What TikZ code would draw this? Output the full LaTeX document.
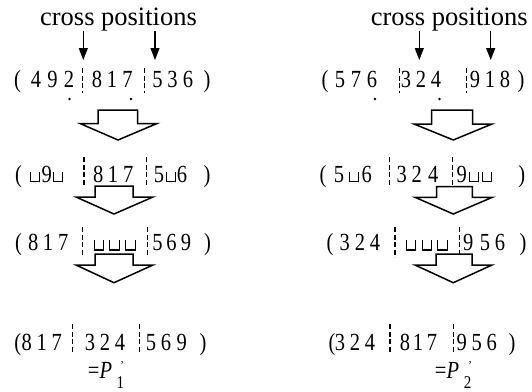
\documentclass[tikz,border=0pt]{standalone}
\usepackage{graphicx}
\usepackage{fontspec}
\setmainfont{Liberation Serif}
\usetikzlibrary{arrows.meta}
\newcommand\sqc{\hbox{\vrule width 0.9pt height 8.5pt\vbox{\hrule width 8.4pt height 0.9pt}\vrule width 0.9pt height 8.5pt}}
\newcommand\tallchar[1]{\scalebox{1}[1.2]{#1}}
\tikzset{
  dig/.style={anchor=base,inner sep=0pt,font=\fontsize{20.5}{20.5}\selectfont},
  lab/.style={anchor=base,inner sep=0pt,font=\fontsize{26.5}{26.5}\selectfont},
  cutline/.style={line width=1.5pt,dash pattern=on 5pt off 2.5pt},
  downarrow/.style={line width=1.3pt,-{Triangle[length=12pt,width=9pt]}},
  blockarrow/.style={line width=1.5pt,fill=white,line join=miter},
  pt/.style={circle,fill,inner sep=0pt,minimum size=2.8pt}
}
\begin{document}
\begin{tikzpicture}[x=1pt,y=-1pt]
\path[use as bounding box] (0,0) rectangle (532,391);
% labels
\node[lab] (cpL) at (118.5,25) {cross positions};
\node[lab] (cpR) at (449.2,25) {cross positions};
\coordinate (aL1s) at (83.3,31); \coordinate (aL1e) at (83.3,60);
\coordinate (aL2s) at (155,31);  \coordinate (aL2e) at (155,60);
\coordinate (aR1s) at (419.3,31); \coordinate (aR1e) at (419.3,60);
\coordinate (aR2s) at (490.7,31); \coordinate (aR2e) at (490.7,60);
\foreach \a in {aL1,aL2,aR1,aR2} \draw[downarrow] (\a s) -- (\a e);
% ---------- left column ----------
\foreach \x/\c [count=\i] in {17.5/{(},36/4,52.5/9,69/2,97/8,112/1,127.5/7,157.5/5,172.5/3,188/6,207/{)}}
  \node[dig] (La\i) at (\x,87.5) {\tallchar{\c}};
\node[pt] (LdotA) at (69.5,99) {};
\node[pt] (LdotB) at (131,99) {};
\foreach \x/\c [count=\i] in {18.5/{(},35/\sqc,46.7/9,57.7/\sqc,98.3/8,113/1,128.3/7,159/5,170.7/\sqc,182/6,207/{)}}
  \node[dig] (Lb\i) at (\x,182) {\tallchar{\c}};
\foreach \x/\c [count=\i] in {18.5/{(},33.3/8,48/1,63.3/7,98.6/\sqc,114.5/\sqc,130.4/\sqc,157.5/5,171.5/6,186/9,207.5/{)}}
  \node[dig] (Lc\i) at (\x,250.5) {\tallchar{\c}};
\foreach \x/\c [count=\i] in {17.7/{(},26.7/8,41.7/1,56.7/7,90/3,105/2,120/4,151/5,166/6,181.7/9,203/{)}}
  \node[dig] (Ld\i) at (\x,350.5) {\tallchar{\c}};
\node[dig] (LeqP) at (100,378.3) {\tallchar{=\textit{P}}};
\node[dig,font=\fontsize{15}{15}\selectfont] (Lsub) at (120.3,388.3) {\tallchar{1}};
\node[dig,font=\fontsize{12}{12}\selectfont] (Lprime) at (122,369) {'};
% dashed cut lines left
\foreach \x/\ya/\yb in {82.7/68/93,144.5/68/93,84/157/186,146.7/157/186,82.3/227/257,147.7/227/257,72.7/324/353,139.3/324/353}
  \draw[cutline] (\x,\ya) -- (\x,\yb);
% block arrows left
\draw[blockarrow] (98,110) -- (137.5,110) -- (137.5,123.5) -- (157,123.5) -- (118,140) -- (80,123.5) -- (98,123.5) -- cycle;
\draw[blockarrow] (95,186) -- (133,186) -- (133,197) -- (153,197) -- (114,214) -- (76,197) -- (95,197) -- cycle;
\draw[blockarrow] (95,254) -- (133,254) -- (133,265) -- (153,265) -- (114,282.7) -- (76,265) -- (95,265) -- cycle;
% ---------- right column ----------
\foreach \x/\c [count=\i] in {325/{(},340/5,356/7,372/6,406/3,421/2,436/4,475/9,490/1,505/8,521/{)}}
  \node[dig] (Ra\i) at (\x,87.5) {\tallchar{\c}};
\node[pt] (RdotA) at (375,99) {};
\node[pt] (RdotB) at (439.5,99) {};
\foreach \x/\c [count=\i] in {323/{(},339/5,354/\sqc,366.7/6,401.7/3,416.7/2,433.3/4,461.7/9,474/\sqc,487/\sqc,521.7/{)}}
  \node[dig] (Rb\i) at (\x,182) {\tallchar{\c}};
\foreach \x/\c [count=\i] in {330/{(},344.7/3,360/2,375/4,411/\sqc,426.7/\sqc,442.3/\sqc,468.3/9,485/5,500/6,523/{)}}
  \node[dig] (Rc\i) at (\x,250.5) {\tallchar{\c}};
\foreach \x/\c [count=\i] in {332/{(},340/3,355/2,370/4,405/8,418/1,432/7,461.7/9,476.7/5,491.7/6,512/{)}}
  \node[dig] (Rd\i) at (\x,350.5) {\tallchar{\c}};
\node[dig] (ReqP) at (447,378.3) {\tallchar{=\textit{P}}};
\node[dig,font=\fontsize{15}{15}\selectfont] (Rsub) at (467.5,388.3) {\tallchar{2}};
\node[dig,font=\fontsize{12}{12}\selectfont] (Rprime) at (470,369) {'};
\foreach \x/\ya/\yb in {399.3/68/93,466.7/68/93,389.3/157/186,452.7/157/186,395/227/257,459.3/227/257,390/324/353,453.3/324/353}
  \draw[cutline] (\x,\ya) -- (\x,\yb);
\draw[blockarrow] (431.7,110) -- (472.7,110) -- (472.7,124) -- (492,124) -- (453.3,140) -- (414,124) -- (431.7,124) -- cycle;
\draw[blockarrow] (436.7,186.7) -- (472.3,186.7) -- (472.3,197.3) -- (492.3,197.3) -- (453.3,214) -- (415,197.3) -- (436.7,197.3) -- cycle;
\draw[blockarrow] (436,254) -- (472,254) -- (472,265) -- (492,265) -- (453.3,282.7) -- (415,265) -- (436,265) -- cycle;
\end{tikzpicture}
\end{document}
